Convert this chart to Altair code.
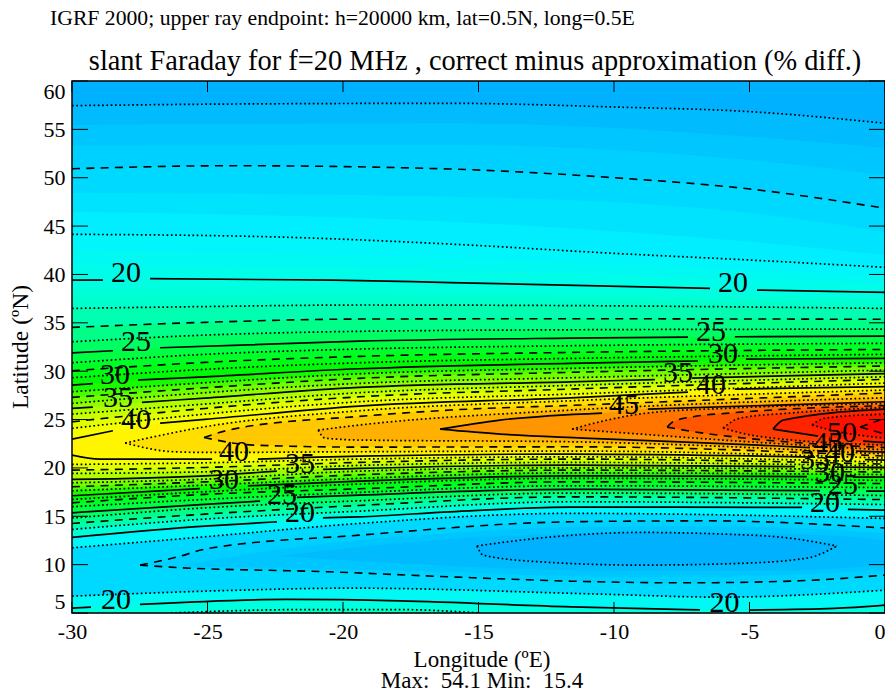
import altair as alt
import pandas as pd

FONT = "Liberation Serif"
COLS = [-30, -25.1, -19.4, -11.6, 0]
LON_TICKS = [-30, -25, -20, -15, -10, -5, 0]
LAT_TICKS = [5, 10, 15, 20, 25, 30, 35, 40, 45, 50, 55, 60]

# colour table: value -> colour
COLOR_LEVELS = [15.4, 16.25, 17.5, 18.75, 20, 21.25, 22.5, 23.75, 25, 27.5, 30, 32.5, 35, 37.5, 40, 42.5, 45, 47.5, 50, 52.5, 54.1]
COLOR_RANGE = ["#00aaff", "#00b8ff", "#00d4ff", "#00f4ff", "#00ffe6", "#00ffc4", "#00ff9c", "#00ff74", "#00ff50",
               "#00ff18", "#00f800", "#60ff00", "#a4ff00", "#d8ff00", "#ffff00", "#ffd400", "#ffa400", "#ff6400",
               "#ff2c00", "#ff0800", "#ff0000"]


def cols(lats):
    return [list(zip(COLS, lats))]


# contour lines north of the ridge, read at the COLS longitudes
NORTH_LATS = {
    21.25: [36.49, 36.68, 36.84, 36.78, 36.49],
    22.5: [34.53, 35.05, 35.39, 35.42, 35.36],
    23.75: [33.04, 33.73, 34.12, 34.28, 34.35],
    26.25: [30.87, 31.74, 32.29, 32.63, 32.88],
    27.5: [30.04, 30.91, 31.53, 31.94, 32.25],
    28.75: [29.32, 30.19, 30.87, 31.32, 31.74],
    31.25: [27.87, 28.80, 29.73, 30.29, 30.87],
    32.5: [27.29, 28.28, 29.26, 29.88, 30.53],
    33.75: [26.67, 27.77, 28.74, 29.32, 30.11],
    36.25: [25.56, 26.60, 27.77, 28.53, 29.42],
    37.5: [24.77, 26.15, 27.35, 28.15, 29.15],
    38.75: [24.09, 25.56, 26.84, 27.63, 28.77],
}
# contour lines south of the ridge, read at the COLS longitudes
SOUTH_LATS = {
    18.75: [11.74, 12.88, 14.26, 15.30, 14.78],
    21.25: [13.64, 14.71, 15.53, 16.50, 16.21],
    22.5: [14.26, 15.22, 16.12, 17.01, 16.72],
    23.75: [14.81, 15.87, 16.60, 17.40, 17.14],
    26.25: [15.98, 16.74, 17.47, 18.15, 17.96],
    27.5: [16.39, 17.26, 17.84, 18.56, 18.38],
    28.75: [16.74, 17.53, 18.33, 18.92, 18.71],
    31.25: [17.63, 18.22, 18.92, 19.49, 19.31],
    32.5: [18.05, 18.56, 19.29, 19.77, 19.57],
    33.75: [18.46, 18.84, 19.67, 20.01, 19.83],
    36.25: [19.43, 19.60, 20.26, 20.57, 20.22],
    37.5: [19.77, 20.05, 20.57, 20.91, 20.39],
    38.75: [20.36, 20.53, 20.91, 21.15, 20.60],
}
# curves with other sample points; each is a list of unbroken segments of (lon, lat)
NORTH = {
    16.25: [[(-30, 57.45), (-24.06, 57.62), (-16.05, 57.69), (-10.0, 57.31), (-4.98, 56.83), (0, 55.63)]],
    17.5: [[(-30, 50.93), (-24.06, 51.24), (-16.05, 50.90), (-10.0, 50.0), (-4.98, 48.83), (0, 46.84)]],
    18.75: [[(-30, 44.15), (-22.8, 43.90), (-16.05, 43.14), (-10.0, 42.18), (-4.98, 41.49), (0, 40.73)]],
    20: [[(-30, 39.42), (-28.86, 39.42)], [(-27.12, 39.56), (-20.37, 39.42), (-16.05, 39.16), (-6.46, 38.56)], [(-4.72, 38.39), (0, 38.15)]],
    25: [[(-30, 31.90), (-28.49, 32.11)], [(-26.75, 32.42), (-19.4, 33.11), (-11.6, 33.42), (-7.27, 33.53)], [(-5.54, 33.56), (0, 33.63)]],
    30: [[(-30, 28.56), (-29.23, 28.72)], [(-27.56, 29.08), (-25.1, 29.42), (-19.4, 30.25), (-11.6, 30.81), (-6.9, 31.05)], [(-5.13, 31.25), (0, 31.32)]],
    35: [[(-30, 26.15), (-29.23, 26.29)], [(-27.42, 26.77), (-25.1, 27.22), (-19.4, 28.33), (-11.6, 28.90), (-8.49, 29.13)], [(-7.12, 29.29), (0, 29.75)]],
    40: [[(-30, 22.98), (-28.49, 23.84)], [(-26.75, 24.63), (-25.1, 25.02), (-19.4, 26.39), (-11.6, 27.25), (-7.27, 27.84)], [(-5.54, 28.15), (0, 28.41)]],
    41.25: [[(-28.04, 22.57), (-25.1, 24.25), (-19.4, 25.91), (-11.6, 26.94), (0, 28.05)]],
    42.5: [[(-25.13, 23.15), (-24.06, 24.01), (-19.4, 25.33), (-16.05, 25.98), (-11.6, 26.46), (0, 27.74)]],
    43.75: [[(-20.92, 23.91), (-19.4, 24.43), (-11.6, 25.98), (0, 27.25)]],
    45: [[(-16.42, 24.01), (-14.21, 24.94), (-10.44, 25.67)], [(-8.75, 26.08), (0, 26.84)]],
    46.25: [[(-11.55, 24.01), (-10.26, 24.94), (-8.78, 25.67), (-5.72, 26.18), (0, 26.65)]],
    47.5: [[(-8.04, 24.22), (-7.82, 24.77), (-7.08, 25.29), (-5.72, 25.67), (0, 26.44)]],
    48.75: [[(-5.98, 24.12), (-5.35, 25.15), (-3.51, 25.67), (0, 26.24)]],
    50: [[(-4.13, 24.01), (-3.76, 24.94), (0, 26.08)]],
    51.25: [[(-2.69, 24.43), (-2.21, 25.15), (0, 25.56)]],
    52.5: [[(-0.92, 24.22), (0, 25.15)]],
}
SOUTH = {
    20: [[(-30, 12.81), (-25.1, 13.98), (-22.44, 14.43)], [(-20.74, 14.84), (-19.4, 14.94), (-16.05, 15.46), (-11.6, 15.95), (-3.06, 15.92)], [(-1.37, 15.71), (0, 15.64)]],
    25: [[(-30, 15.36), (-25.1, 16.23), (-23.06, 16.57)], [(-21.7, 16.95), (-19.4, 17.19), (-11.6, 17.78), (-2.4, 17.65)], [(-0.7, 17.60), (0, 17.60)]],
    30: [[(-30, 17.12), (-25.28, 17.86)], [(-23.51, 18.15), (-19.4, 18.64), (-11.6, 19.18), (-2.88, 19.10)], [(-1.18, 19.05), (0, 19.05)]],
    35: [[(-30, 18.81), (-25.1, 19.18), (-22.44, 19.67)], [(-20.74, 19.85), (-19.4, 19.95), (-11.6, 20.29), (-3.32, 20.14)], [(-1.85, 20.08), (0, 20.05)]],
    40: [[(-30, 21.32), (-28.97, 20.91), (-24.83, 20.91)], [(-23.14, 20.91), (-19.4, 21.22), (-11.6, 21.43), (-2.58, 21.12)], [(-0.74, 20.86), (0, 20.81)]],
    41.25: [[(-28.04, 22.57), (-26.27, 21.67), (-25.1, 21.60), (-19.4, 21.67), (-11.6, 21.74), (0, 21.01)]],
    42.5: [[(-25.13, 23.15), (-23.32, 22.36), (-19.4, 22.15), (-11.6, 22.18), (0, 21.22)]],
    43.75: [[(-20.92, 23.91), (-20.66, 23.08), (-19.4, 22.88), (-11.6, 22.70), (0, 21.43)]],
    45: [[(-16.42, 24.01), (-14.21, 23.50), (-11.14, 23.08), (-4.13, 22.29), (-2.77, 22.10)], [(-1.07, 21.74), (0, 21.63)]],
    46.25: [[(-11.55, 24.01), (-9.04, 23.50), (-5.98, 22.88), (0, 21.86)]],
    47.5: [[(-8.04, 24.22), (-7.08, 23.75), (-5.83, 23.29), (0, 22.10)]],
    48.75: [[(-5.98, 24.12), (-4.72, 23.29), (0, 22.36)]],
    50: [[(-4.13, 24.01), (-2.47, 23.29)], [(-0.81, 22.77), (0, 22.62)]],
    51.25: [[(-2.69, 24.43), (-1.85, 23.81), (0, 23.08)]],
    52.5: [[(-0.92, 24.22), (0, 23.50)]],
}
# the low pool south of the ridge and the rise towards the bottom of the map
TONGUE_UP = [(-27.49, 9.95), (-26.0, 10.88), (-25.1, 11.60), (-19.4, 13.05), (-11.6, 14.43), (-6.57, 14.53), (0, 13.78)]
TONGUE_DOWN = [(-27.49, 9.95), (-26.38, 9.74), (-20.55, 9.26), (-15.79, 8.71), (-11.59, 8.29), (-7.34, 8.12), (-3.14, 8.33), (0, 8.92)]
POOL_UP = [(-15.06, 11.93), (-13.95, 12.36), (-11.51, 13.05), (-9.04, 13.33), (-5.98, 13.16), (-3.51, 12.74), (-1.77, 11.93)]
POOL_DOWN = [(-15.06, 11.93), (-14.83, 10.98), (-12.73, 10.29), (-9.04, 9.95), (-5.35, 10.13), (-2.88, 10.67), (-1.77, 11.93)]
LOW_1875 = [(-30, 6.74), (-23.8, 7.36), (-19.74, 7.57), (-10.52, 6.95), (-6.09, 6.64), (0, 7.36)]
LOW_20 = [[(-30, 5.50), (-29.3, 5.61)], [(-27.49, 5.89), (-22.1, 6.40), (-17.9, 6.26), (-11.59, 5.64), (-6.83, 5.33)], [(-5.02, 5.30), (-1.88, 5.47), (0, 5.81)]]
LOW_2125 = [(-26.35, 5.0), (-21.59, 5.35), (-17.9, 5.35), (-14.94, 5.0)]

# colour-band edges that carry no contour line
BAND_16667 = [(-30, 55.45), (-16.05, 55.63), (-4.98, 54.24), (0, 53.07)]
BAND_17083 = [(-30, 53.31), (-16.05, 53.38), (-4.98, 51.83), (0, 50.28)]
BAND_17917 = [(-30, 48.42), (-16.05, 48.04), (-4.98, 46.35), (0, 44.42)]
BAND_18333 = [(-30, 46.48), (-16.05, 45.45), (-4.98, 43.38), (0, 42.01)]
BAND_19167 = [(-30, 42.52), (-16.05, 41.70), (0, 39.84)]
BAND_19583 = [(-30, 40.97), (-16.05, 40.46), (0, 39.01)]
BAND_20417 = [(-30, 38.49), (-16.05, 38.18), (0, 37.46)]
BAND_20833 = [(-30, 37.46), (-16.05, 37.56), (0, 36.99)]
TONGUE_17083_UP = [(-26.01, 9.85), (-23.06, 11.29), (-16.05, 13.26), (-11.6, 13.88), (-6.57, 13.98), (0, 13.26)]
TONGUE_17083_DOWN = [(-26.01, 9.85), (-16.05, 9.23), (-11.59, 8.81), (-7.34, 8.71), (0, 9.43)]
TONGUE_16667_UP = [(-22.44, 10.88), (-16.05, 12.64), (-8.67, 13.36), (-3.14, 13.16), (0, 12.53)]
TONGUE_16667_DOWN = [(-22.44, 10.88), (-16.05, 9.85), (-11.59, 9.43), (-7.34, 9.33), (-3.14, 9.43), (0, 9.95)]

LABEL_TEXT = ["20", "25", "30", "35", "40", "40", "35", "30", "25", "20", "20", "20", "25", "30", "35", "40", "45", "50", "45", "40", "35", "30", "25", "20", "20"]
LABEL_LON = [-28.01, -27.64, -28.41, -28.30, -27.64, -24.02, -21.59, -24.39, -22.25, -21.59, -28.38, -5.61, -6.42, -5.98, -7.64, -6.42, -9.63, -1.59, -2.10, -1.66, -2.58, -2.03, -1.55, -2.21, -5.92]
LABEL_LAT = [40.15, 33.01, 29.60, 27.22, 24.94, 21.63, 20.39, 18.74, 17.19, 15.33, 6.33, 39.11, 34.04, 31.77, 29.80, 28.56, 26.50, 23.60, 22.57, 21.53, 20.81, 19.46, 18.22, 16.36, 6.02]

for lv, v in NORTH_LATS.items():
    NORTH[lv] = cols(v)
for lv, v in SOUTH_LATS.items():
    SOUTH[lv] = cols(v)

MID = 22.15
rows = []
n = [0]


def paint(points, base, val):
    n[0] += 1
    for lon, lat in points:
        rows.append(dict(grp=f"g{n[0]:03d}", lon=lon, lat=lat, base=base, val=val))


def flat(segs):
    return [p for s in segs for p in s]


paint([(-30, 60), (0, 60)], 5, 15.8)
paint(flat(NORTH[16.25]), 5, 16.45)
paint(BAND_16667, 5, 16.87)
paint(BAND_17083, 5, 17.3)
paint(flat(NORTH[17.5]), 5, 17.7)
paint(TONGUE_UP, 9.95, 17.3)
paint(TONGUE_DOWN, 9.95, 17.3)
paint(TONGUE_17083_UP, 9.85, 16.87)
paint(TONGUE_17083_DOWN, 9.85, 16.87)
paint(TONGUE_16667_UP, 10.88, 16.45)
paint(TONGUE_16667_DOWN, 10.88, 16.45)
paint(POOL_UP, 11.93, 15.8)
paint(POOL_DOWN, 11.93, 15.8)
paint(BAND_17917, MID, 18.1)
paint(BAND_18333, MID, 18.5)
paint(flat(NORTH[18.75]), MID, 18.95)
paint(flat(cols(SOUTH_LATS[18.75])), MID, 18.95)
paint(LOW_1875, 5, 19.3)
paint(BAND_19167, MID, 19.37)
paint(BAND_19583, MID, 19.8)
paint(flat(LOW_20), 5, 20.3)
paint(LOW_2125, 5, 21.6)
for lv in sorted(k for k in NORTH if k >= 20):
    if lv == 20.0:
        paint(flat(NORTH[lv]), MID, 20.2)
        paint(flat(SOUTH[lv]), MID, 20.5)
        paint(BAND_20417, MID, 20.62)
        paint(BAND_20833, MID, 21.04)
        continue
    tip = flat(NORTH[lv])[0]
    base = MID if lv <= 40 else tip[1]
    paint(flat(NORTH[lv]), base, lv + 0.6)
    paint(flat(SOUTH[lv]), base, lv + 0.6)
fills = pd.DataFrame(rows)


def style(lv):
    if lv % 5 == 0:
        return "solid"
    if lv % 2.5 == 0:
        return "dashed"
    return "dotted"


line_rows = []
m = [0]


def add_line(segs, st):
    for s in segs:
        m[0] += 1
        for lon, lat in s:
            line_rows.append(dict(seg=f"s{m[0]:03d}", lon=lon, lat=lat, st=st))


for d in (NORTH, SOUTH):
    for lv, segs in d.items():
        add_line(segs, style(lv))
add_line([TONGUE_UP, TONGUE_DOWN], "dashed")
add_line([POOL_UP, POOL_DOWN], "dotted")
add_line([LOW_1875], "dotted")
add_line(LOW_20, "solid")
add_line([LOW_2125], "dotted")
lines = pd.DataFrame(line_rows)

xs = alt.Scale(domain=[-30, 0], nice=False, zero=False)
ys = alt.Scale(domain=[5, 60], nice=False, zero=False)
cs = alt.Scale(domain=COLOR_LEVELS, range=COLOR_RANGE, interpolate="rgb")

fill_layer = alt.Chart(fills).mark_area(interpolate="monotone", clip=True, orient="vertical", strokeWidth=0).encode(
    x=alt.X("lon:Q", scale=xs, title=None,
            axis=alt.Axis(values=LON_TICKS, ticks=False, grid=False, domain=False, labelFont=FONT, labelFontSize=22,
                          labelPadding=8, labelColor="black", labelAngle=0, labelFlush=False,
                          labelOverlap=False, labelBound=False,
                          labelExpr="'' + datum.value",
                          labelAlign={"expr": "datum.value == 0 ? 'right' : 'center'"})),
    y=alt.Y("lat:Q", scale=ys, stack=None, title=None,
            axis=alt.Axis(values=LAT_TICKS, ticks=False, grid=False, domain=False, labelFont=FONT, labelFontSize=22,
                          labelPadding=7, labelColor="black", labelFlush=True, labelOverlap=False)),
    y2=alt.Y2("base:Q"),
    detail="grp:N",
    color=alt.Color("val:Q", scale=cs, legend=None),
)


def line_layer(st, **kw):
    return alt.Chart(lines[lines.st == st]).mark_line(interpolate="monotone", color="black", clip=True, **kw).encode(
        x=alt.X("lon:Q", scale=xs),
        y=alt.Y("lat:Q", scale=ys),
        detail="seg:N",
    )


lon_df = pd.DataFrame({"lon": LON_TICKS})
lat_df = pd.DataFrame({"lat": LAT_TICKS})
rule = dict(color="black", strokeWidth=1)
ticks = [
    alt.Chart(lon_df).mark_rule(**rule).encode(x=alt.X("lon:Q", scale=xs), y=alt.value(0), y2=alt.value(11)),
    alt.Chart(lon_df).mark_rule(**rule).encode(x=alt.X("lon:Q", scale=xs), y=alt.value(521), y2=alt.value(532)),
    alt.Chart(lat_df).mark_rule(**rule).encode(y=alt.Y("lat:Q", scale=ys), x=alt.value(0), x2=alt.value(16)),
    alt.Chart(lat_df).mark_rule(**rule).encode(y=alt.Y("lat:Q", scale=ys), x=alt.value(797), x2=alt.value(813)),
]

frame = alt.Chart(lon_df.head(1)).mark_rect(filled=False, stroke="black", strokeWidth=1.5).encode(
    x=alt.value(0), x2=alt.value(813), y=alt.value(0), y2=alt.value(532))

labels = alt.Chart(pd.DataFrame({"t": LABEL_TEXT, "lon": LABEL_LON, "lat": LABEL_LAT})).mark_text(
    font=FONT, fontSize=30, align="center", baseline="middle", color="black").encode(
    x=alt.X("lon:Q", scale=xs), y=alt.Y("lat:Q", scale=ys), text="t:N")


def note(text, x, y, size, align="center", angle=None, baseline="alphabetic"):
    kw = dict(font=FONT, fontSize=size, align=align, baseline=baseline, color="black", text=text)
    if angle is not None:
        kw["angle"] = angle
    return alt.Chart(lon_df.head(1)).mark_text(**kw).encode(x=alt.value(x), y=alt.value(y))


notes = [
    note("IGRF 2000; upper ray endpoint: h=20000 km, lat=0.5N, long=0.5E", -22, -56, 21.7, align="left"),
    note("slant Faraday for f=20 MHz , correct minus approximation (% diff.)", 403, -11, 28.4),
    note("Longitude (ºE)", 410, 586, 23),
    note("Max:\u00a0\u00a054.1 Min:\u00a0\u00a015.4", 410, 607, 23),
    note("Latitude (ºN)", -44, 266, 23.5, angle=270),
]

chart = alt.layer(
    fill_layer,
    line_layer("dotted", strokeWidth=1.7, strokeDash=[1.7, 2.6]),
    line_layer("dashed", strokeWidth=1.6, strokeDash=[8, 6.3]),
    line_layer("solid", strokeWidth=1.7),
    *ticks,
    frame,
    labels,
    *notes,
).properties(
    width=813,
    height=532,
    autosize="none",
    padding={"left": 64, "top": 73, "right": 0, "bottom": 84},
).configure_view(stroke=None).configure(font=FONT)

chart.save("out.html", embed_options={"renderer": "svg", "actions": False})
